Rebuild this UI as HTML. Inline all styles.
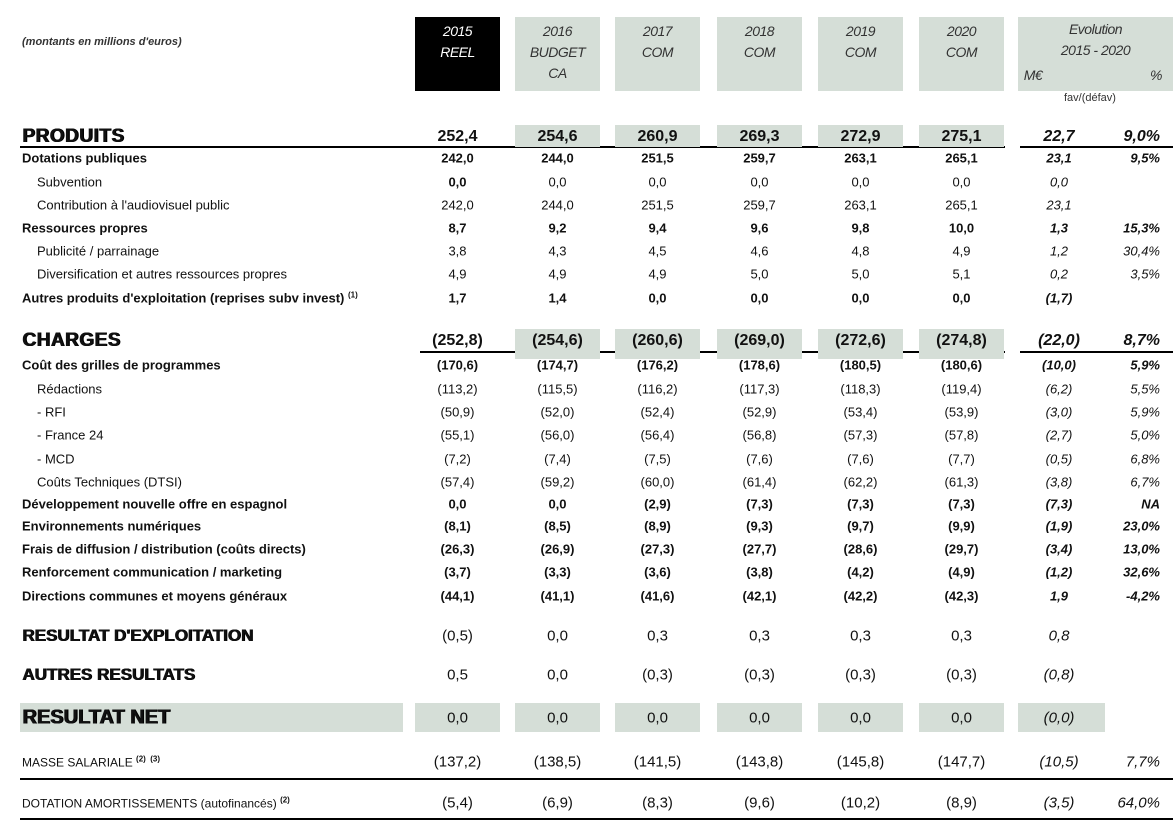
<!DOCTYPE html>
<html><head><meta charset="utf-8">
<style>
body{margin:0;width:1173px;height:830px;background:#fff;position:relative;overflow:hidden;font-family:"Liberation Sans",Arial,sans-serif;color:#111}
.a{position:absolute;white-space:nowrap}
.box{position:absolute;background:#d5ded7}
.hd{position:absolute;font-style:italic;font-size:14px;text-align:center;color:#333;line-height:21px;letter-spacing:-0.5px}
.line{position:absolute;height:2px;background:#000}
</style></head><body>
<div class="a" style="left:22px;top:36px;font-size:11px;font-style:italic;font-weight:bold;color:#333">(montants en millions d'euros)</div>
<div id="root"></div>
<script>
const years=["2015","2016","2017","2018","2019","2020"];
const subs=["REEL","BUDGET\nCA","COM","COM","COM","COM"];
const labels=["PRODUITS","Dotations publiques","Subvention","Contribution à l'audiovisuel public","Ressources propres","Publicité / parrainage","Diversification et autres ressources propres","Autres produits d'exploitation (reprises subv invest)","CHARGES","Coût des grilles de programmes","Rédactions","- RFI","- France 24","- MCD","Coûts Techniques (DTSI)","Développement nouvelle offre en espagnol","Environnements numériques","Frais de diffusion / distribution (coûts directs)","Renforcement communication / marketing","Directions communes et moyens généraux","RESULTAT D'EXPLOITATION","AUTRES RESULTATS","RESULTAT NET","MASSE SALARIALE","DOTATION AMORTISSEMENTS (autofinancés)"];
const sups=["","","","","","","","(1)","","","","","","","","","","","","","","","","(2)  (3)","(2)"];
const kinds=["H","B","S","S","B","S","S","B","H","B","S","S","S","S","S","B","B","B","B","B","R","R","N","M","M"];
const v2015=["252,4","242,0","0,0","242,0","8,7","3,8","4,9","1,7","(252,8)","(170,6)","(113,2)","(50,9)","(55,1)","(7,2)","(57,4)","0,0","(8,1)","(26,3)","(3,7)","(44,1)","(0,5)","0,5","0,0","(137,2)","(5,4)"];
const v2016=["254,6","244,0","0,0","244,0","9,2","4,3","4,9","1,4","(254,6)","(174,7)","(115,5)","(52,0)","(56,0)","(7,4)","(59,2)","0,0","(8,5)","(26,9)","(3,3)","(41,1)","0,0","0,0","0,0","(138,5)","(6,9)"];
const v2017=["260,9","251,5","0,0","251,5","9,4","4,5","4,9","0,0","(260,6)","(176,2)","(116,2)","(52,4)","(56,4)","(7,5)","(60,0)","(2,9)","(8,9)","(27,3)","(3,6)","(41,6)","0,3","(0,3)","0,0","(141,5)","(8,3)"];
const v2018=["269,3","259,7","0,0","259,7","9,6","4,6","5,0","0,0","(269,0)","(178,6)","(117,3)","(52,9)","(56,8)","(7,6)","(61,4)","(7,3)","(9,3)","(27,7)","(3,8)","(42,1)","0,3","(0,3)","0,0","(143,8)","(9,6)"];
const v2019=["272,9","263,1","0,0","263,1","9,8","4,8","5,0","0,0","(272,6)","(180,5)","(118,3)","(53,4)","(57,3)","(7,6)","(62,2)","(7,3)","(9,7)","(28,6)","(4,2)","(42,2)","0,3","(0,3)","0,0","(145,8)","(10,2)"];
const v2020=["275,1","265,1","0,0","265,1","10,0","4,9","5,1","0,0","(274,8)","(180,6)","(119,4)","(53,9)","(57,8)","(7,7)","(61,3)","(7,3)","(9,9)","(29,7)","(4,9)","(42,3)","0,3","(0,3)","0,0","(147,7)","(8,9)"];
const evolM=["22,7","23,1","0,0","23,1","1,3","1,2","0,2","(1,7)","(22,0)","(10,0)","(6,2)","(3,0)","(2,7)","(0,5)","(3,8)","(7,3)","(1,9)","(3,4)","(1,2)","1,9","0,8","(0,8)","(0,0)","(10,5)","(3,5)"];
const evolP=["9,0%","9,5%","","","15,3%","30,4%","3,5%","","8,7%","5,9%","5,5%","5,9%","5,0%","6,8%","6,7%","NA","23,0%","13,0%","32,6%","-4,2%","","","","7,7%","64,0%"];

const rowY=[137,158,182,205,228,251,274,298,341,365,389,412,435,459,482,504,526,549,572,596,636,675,718,762,803];
const colL=[415,515,615,717,818,919];
const colW=85;
const root=document.getElementById('root');
function mk(cls,css,txt){const d=document.createElement('div');d.className=cls;d.style.cssText=css;if(txt!==undefined)d.textContent=txt;root.appendChild(d);return d;}

years.forEach((y,i)=>{
  const b=mk('box',`left:${colL[i]}px;top:17px;width:${colW}px;height:74px;${i===0?'background:#000':''}`);
  
  
  const t=mk('hd',`left:${colL[i]}px;top:21px;width:${colW}px;${i===0?'color:#fff':''}`);
  t.innerHTML=y+'<br>'+subs[i].replace('\n','<br>');
  
  
});
const eb=mk('box','left:1018px;top:17px;width:155px;height:74px');


const et=mk('hd','left:1018px;top:19px;width:155px','');
et.innerHTML='Evolution<br>2015 - 2020';


const em=mk('hd','left:1020px;top:65px;width:26px','M€');


const ep=mk('hd','left:1146px;top:65px;width:20px','%');


const fv=mk('a','left:1064px;top:92px;font-size:11px;color:#333','fav/(défav)');



[[20,146,985],[1020,146,153],[420,351,585],[1020,351,153],[20,778,1153],[20,818,1153]].forEach((l,i)=>{
  const d=mk('line',`left:${l[0]}px;top:${l[1]}px;width:${l[2]}px`);
  
  
});

const vals=[v2015,v2016,v2017,v2018,v2019,v2020];
labels.forEach((lab,r)=>{
  const k=kinds[r], y=rowY[r];
  let lf='13px', lw='bold', vf='13px', vw='bold', left=22, ls='0', sh='none';
  if(k==='S'){lw='normal';vw='normal';left=37;}
  if(k==='H'){lf='19px';lw='900';vf='16px';left=22;ls='0.5px';sh='0.6px 0 0 #000, 1.2px 0 0 #000';}
  if(k==='R'){lf='17px';lw='900';vf='15px';vw='normal';sh='0.6px 0 0 #000, 1px 0 0 #000';}
  if(k==='N'){lf='20px';lw='900';vf='15px';vw='normal';sh='0.6px 0 0 #000, 1.2px 0 0 #000';}
  if(k==='M'){lf='12px';lw='normal';vf='15px';vw='normal';}
  if(k==='H'){
    for(let i=1;i<6;i++){const b=mk('box',`left:${colL[i]}px;top:${y-12}px;width:${colW}px;height:${r===0?22:30}px`);
      
      }
  }
  if(k==='N'){
    const b=mk('box',`left:20px;top:${y-15}px;width:383px;height:29px`);
    
    
    for(let i=0;i<6;i++){const c=mk('box',`left:${colL[i]}px;top:${y-15}px;width:${colW}px;height:29px`);
      
      }
    const c=mk('box',`left:1018px;top:${y-15}px;width:87px;height:29px`);
    
    
  }
  const L=mk('a',`left:${left}px;top:${y}px;transform:translateY(-50%);font-size:${lf};font-weight:${lw};letter-spacing:${ls};text-shadow:${sh}`);
  L.innerHTML=lab.replace(/&/g,'&amp;')+(sups[r]?' <sup style="font-size:8px;font-weight:bold">'+sups[r].replace(/ /g,'&nbsp;')+'</sup>':'');
  
  
  vals.forEach((arr,i)=>{
    const d=mk('a',`left:${colL[i]}px;width:${colW}px;text-align:center;top:${y}px;transform:translateY(-50%);font-size:${vf};font-weight:${(r===2&&i===0)?'bold':vw}`,arr[r]);
    
    
  });
  const ew=(k==='S'||k==='M'||k==='R'||k==='N')?'normal':'bold';
  const m=mk('a',`left:1022px;width:74px;text-align:center;top:${y}px;transform:translateY(-50%);font-size:${vf};font-style:italic;font-weight:${ew}`,evolM[r]);
  
  
  const p=mk('a',`right:${1173-1160}px;text-align:right;top:${y}px;transform:translateY(-50%);font-size:${vf};font-style:italic;font-weight:${ew}`,evolP[r]);
  
  
});
</script>
</body></html>
